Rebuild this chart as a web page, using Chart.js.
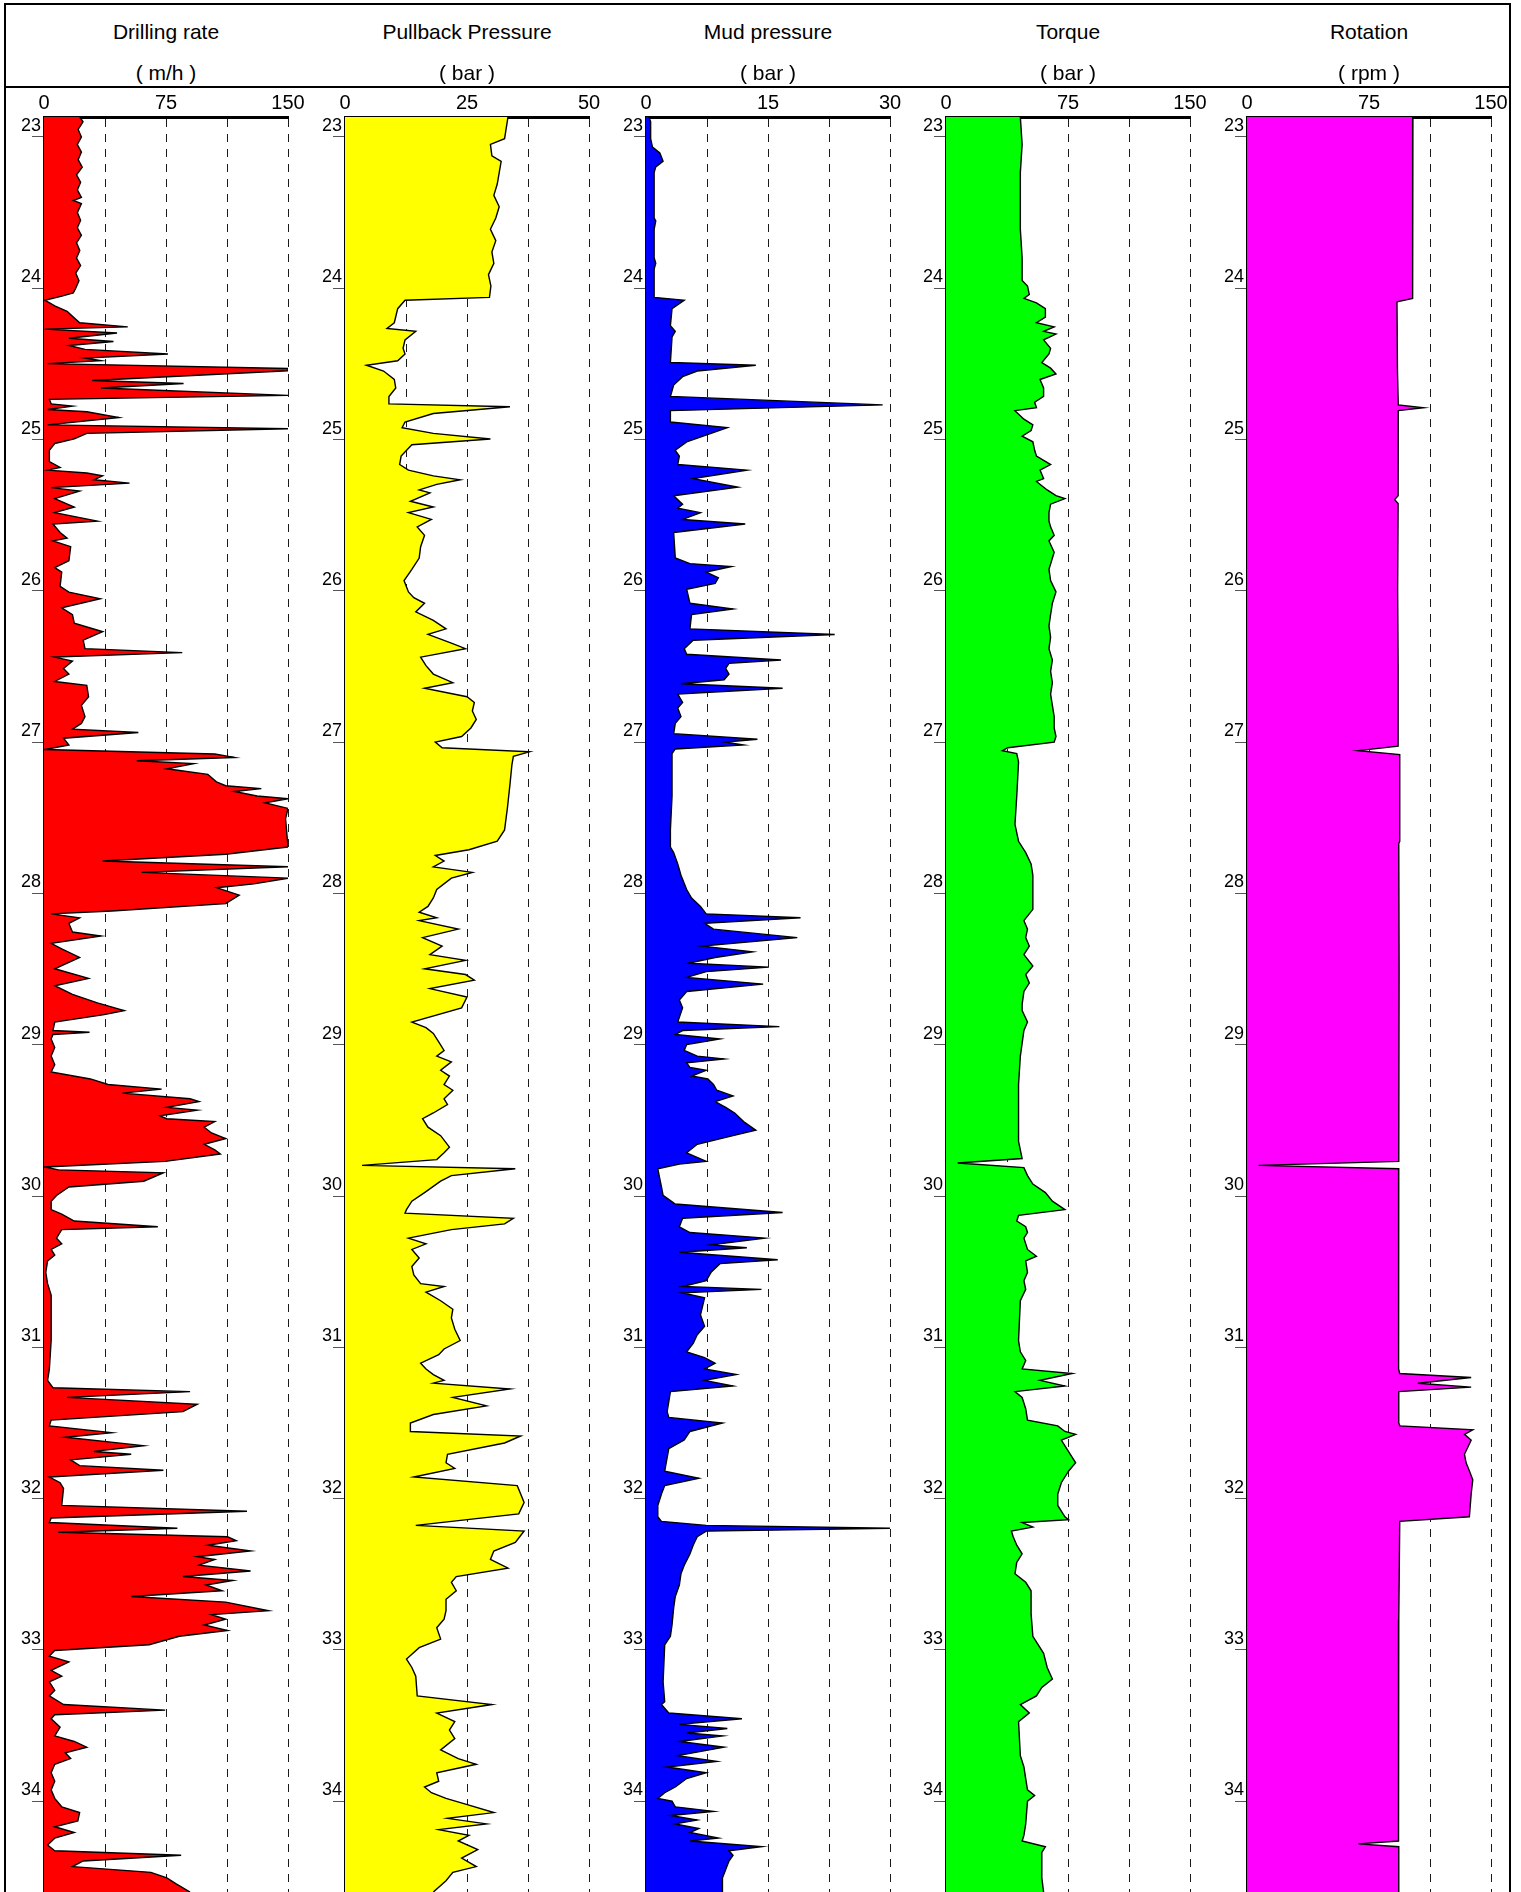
<!DOCTYPE html>
<html>
<head>
<meta charset="utf-8">
<script src="https://cdn.jsdelivr.net/npm/chart.js@4.4.1/dist/chart.umd.min.js"></script>
<style>
  html, body { margin:0; padding:0; background:#fff; width:1521px; height:1892px; overflow:hidden; }
  body { position:relative; font-family:"Liberation Sans", Arial, sans-serif; }
  #frame { position:absolute; left:4px; top:3px; width:1507px; height:2100px; border:2px solid #000; box-sizing:border-box; }
  #hline { position:absolute; left:4px; top:86px; width:1507px; height:2px; background:#000; }
  .ttl, .unit { position:absolute; width:244px; text-align:center; font-size:21px; line-height:24px; color:#000; white-space:nowrap; }
  .ttl { top:20px; }
  .unit { top:61px; }
  canvas { position:absolute; }
</style>
</head>
<body>
<div id="frame"></div>
<div id="hline"></div>
<script>
// ---------- tracks ----------
const trackTitles = ['Drilling rate', 'Pullback Pressure', 'Mud pressure', 'Torque', 'Rotation'];
const trackUnits  = ['( m/h )', '( bar )', '( bar )', '( bar )', '( rpm )'];
const trackMax    = [150, 50, 30, 150, 150];
const axisLabels  = [[0, 75, 150], [0, 25, 50], [0, 15, 30], [0, 75, 150], [0, 75, 150]];
const depthTicks  = [23, 24, 25, 26, 27, 28, 29, 30, 31, 32, 33, 34];
const depthMin = 22.868, depthMax = 34.6;

// ---------- Drilling rate (m/h) ----------
const drillDepth = [
 22.868,22.90,22.95,23.00,23.05,23.10,23.15,23.20,23.25,23.30,
 23.35,23.40,23.42,23.44,23.50,23.55,23.60,23.65,23.70,23.75,
 23.80,23.85,23.90,23.95,24.00,24.03,24.052,24.079,24.116,24.153,
 24.228,24.255,24.270,24.296,24.330,24.352,24.378,24.404,24.434,24.461,
 24.479,24.498,24.530,24.545,24.610,24.629,24.659,24.708,24.734,24.764,
 24.779,24.801,24.816,24.854,24.903,24.929,24.959,24.996,25.026,25.071,
 25.146,25.184,25.202,25.221,25.240,25.266,25.288,25.318,25.341,25.390,
 25.446,25.483,25.539,25.558,25.614,25.652,25.670,25.708,25.801,25.846,
 25.876,25.970,26.008,26.052,26.112,26.157,26.213,26.270,26.326,26.382,
 26.408,26.438,26.464,26.513,26.550,26.599,26.625,26.700,26.757,26.831,
 26.876,26.914,26.936,26.974,27.019,27.049,27.078,27.101,27.123,27.142,
 27.176,27.213,27.262,27.288,27.307,27.326,27.356,27.374,27.401,27.438,
 27.506,27.693,27.741,27.786,27.824,27.861,27.899,27.937,27.962,28.011,
 28.067,28.116,28.135,28.161,28.198,28.255,28.281,28.330,28.367,28.423,
 28.498,28.561,28.610,28.667,28.723,28.774,28.801,28.850,28.906,28.917,
 28.932,28.962,29.019,29.075,29.132,29.180,29.226,29.263,29.293,29.320,
 29.357,29.376,29.414,29.432,29.470,29.489,29.508,29.545,29.583,29.620,
 29.658,29.695,29.722,29.771,29.808,29.827,29.846,29.902,29.940,29.996,
 30.034,30.090,30.120,30.165,30.203,30.222,30.278,30.316,30.353,30.391,
 30.429,30.504,30.579,30.654,30.955,31.143,31.218,31.267,31.293,31.331,
 31.376,31.425,31.481,31.519,31.564,31.594,31.650,31.688,31.707,31.744,
 31.782,31.812,31.857,31.895,31.932,32.045,32.083,32.128,32.158,32.196,
 32.222,32.252,32.278,32.308,32.346,32.384,32.402,32.440,32.478,32.515,
 32.541,32.571,32.609,32.647,32.684,32.741,32.767,32.797,32.835,32.872,
 32.910,32.966,33.004,33.041,33.079,33.135,33.173,33.211,33.267,33.304,
 33.361,33.398,33.428,33.455,33.511,33.568,33.605,33.643,33.680,33.718,
 33.756,33.812,33.868,33.925,33.981,34.037,34.075,34.131,34.169,34.207,
 34.244,34.289,34.327,34.357,34.395,34.432,34.470,34.507,34.545,34.600
];
const drillRate = [
 22,24,21,23,20.5,23,21,23.5,20,22.5,
 20.5,23,18,23,20.5,22.5,20.5,23,20,22,
 20,22.5,19.5,21.5,19.5,18,11,0.5,6.6,14.2,
 21.9,51.5,0.5,44.9,15.3,42.7,15.3,25.2,76.2,25.2,
 35,2.2,150,150,29.6,85.8,35,150,3.3,4.4,
 17.5,2.2,26.3,46,2.2,150,26.3,18.6,6.6,3.3,
 3.3,9.9,2.2,26.3,36,30.7,52.6,4.4,21.9,6.6,
 18.6,6.6,32.8,5.5,9.9,14.2,5.5,16.4,15.3,6.6,
 10.9,9.9,15.3,34.6,10.9,17.5,18.6,36.1,24.1,25.2,
 85,6.6,17.5,12,15.3,6.6,26.3,27.4,23,25.2,
 23,17.5,58,12,15.3,0.5,105,117,57,92,
 75.6,100.7,106,111.7,133.6,117,131,150,136,150,
 148.5,150,111.7,36,150,60,150,129,106,120,
 111.7,41.6,4.4,21.9,15.3,17.5,35,4.4,10.9,21.9,
 6.6,27.4,6.6,17.5,32.8,49.3,37,6.6,5.5,28,
 5.5,4.4,6.6,4.4,6.6,4.4,28.5,39.4,72.3,48.2,
 89.8,95.3,75.5,94.2,71.2,75.5,105,98.5,103,111.7,
 98.5,105,108.4,74.5,0.5,8.8,73.4,61.3,15.3,7.7,
 4.4,4.4,10.9,18.6,70,10.9,7.7,10.9,4.4,6.6,
 2.2,1.1,2.2,4.4,4.4,3.3,2.2,5.5,89.8,14.2,
 94.2,85.4,4.4,3.3,41.6,13.1,61.3,30.7,53.6,16.4,
 21.9,73.4,3.3,9.9,12,10.9,124.8,4.4,3.3,82,
 8.8,112.8,118.2,100.7,127,94.2,105,95.3,127,85.4,
 116,99.6,109.5,53.6,111.7,138,103,111.7,98.5,112.8,
 83.2,64.6,6.6,3.3,15.3,4.4,10.9,3.3,6.6,3.3,
 12,74.5,6.6,4.4,9.9,6.6,18.6,26.3,13.1,16.4,
 6.6,4.4,6.6,4.4,6.6,10.9,21.9,20.8,6.6,18.6,
 6.6,2.2,6.6,84.3,24.1,17.5,65.7,75.5,81,89.8
];

// ---------- Pullback Pressure (bar) ----------
const pullDepth = [
 22.868,23.011,23.049,23.124,23.161,23.236,23.311,23.386,23.461,23.536,
 23.610,23.685,23.760,23.835,23.910,23.985,24.060,24.079,24.135,24.228,
 24.266,24.285,24.341,24.397,24.434,24.479,24.509,24.547,24.603,24.659,
 24.715,24.764,24.783,24.828,24.884,24.921,24.959,24.996,25.034,25.109,
 25.165,25.202,25.240,25.266,25.296,25.333,25.352,25.408,25.446,25.483,
 25.528,25.577,25.633,25.708,25.783,25.858,25.932,26.007,26.045,26.082,
 26.139,26.195,26.251,26.288,26.345,26.382,26.438,26.494,26.550,26.607,
 26.644,26.700,26.738,26.794,26.850,26.906,26.963,27.000,27.037,27.064,
 27.094,27.150,27.281,27.430,27.580,27.655,27.711,27.749,27.786,27.824,
 27.861,27.899,27.974,28.030,28.086,28.124,28.161,28.180,28.236,28.292,
 28.348,28.404,28.442,28.498,28.536,28.573,28.629,28.685,28.756,28.850,
 28.887,28.925,28.981,29.038,29.075,29.113,29.169,29.207,29.263,29.301,
 29.357,29.395,29.451,29.489,29.545,29.601,29.677,29.714,29.759,29.797,
 29.820,29.865,29.902,29.977,30.034,30.090,30.113,30.147,30.184,30.222,
 30.278,30.316,30.353,30.410,30.466,30.522,30.579,30.598,30.635,30.692,
 30.748,30.805,30.880,30.955,31.011,31.049,31.105,31.143,31.180,31.218,
 31.237,31.275,31.331,31.387,31.444,31.500,31.556,31.586,31.632,31.707,
 31.763,31.801,31.857,31.914,31.970,32.026,32.101,32.177,32.214,32.289,
 32.346,32.402,32.459,32.515,32.553,32.609,32.665,32.741,32.797,32.853,
 32.928,32.985,33.060,33.116,33.173,33.304,33.361,33.417,33.474,33.530,
 33.586,33.661,33.718,33.756,33.812,33.868,33.906,33.944,33.981,34.019,
 34.075,34.113,34.150,34.188,34.226,34.263,34.320,34.376,34.432,34.470,
 34.526,34.600
];
const pullPressure = [
 33.4,32.7,29.8,30.1,32,31.6,31.2,30.5,31.6,30.9,
 29.8,30.9,30.1,30.5,29.4,29.9,29.6,12.3,10.8,10.1,
 8.6,14.5,12.3,11.9,12.3,10.8,4.4,7.9,10.1,10.4,
 9,9,33.8,18.1,12.3,11.7,18.1,29.8,13.7,11.5,
 11.2,13,18.1,23.6,18.8,15.2,17.4,13.4,18.1,13,
 17.7,14.8,16.3,15.5,15.2,13.7,12.1,13,14.1,16.3,
 14.5,18.1,20.7,17,21.8,24.7,15.5,16.6,18.1,22.1,
 16.3,25,26.5,26.1,26.9,25.8,23.9,18.5,19.9,37.8,
 34.5,34.2,33.8,33.3,32.7,31.2,25.4,18.5,20.3,18.1,
 26.1,21.8,18.8,18.1,17,15.2,18.8,15.2,23.2,15.9,
 19.9,17.4,24.7,16.3,24.7,26.5,17.4,25,23.9,13.7,
 16.6,18.1,19.2,20.3,18.8,21.8,19.6,21.4,20.3,22.1,
 20.3,21,18.1,15.9,17,19.6,21.4,20.3,18.8,3.5,
 34.9,21.8,19.6,16.3,13.7,12.6,12.3,34.5,32.7,21.8,
 13,16.6,13.7,15.2,13.7,14.1,15.5,20.3,16.6,19.6,
 22.1,21.8,22.5,23.6,20.3,19.2,15.5,16.6,18.1,20.3,
 18.1,33.8,22.1,29,18.1,13.4,13.4,36,32.7,21,
 20.7,22.5,14.1,35.3,36,36.7,35.6,14.5,36.7,34.9,
 30.5,29.8,33.4,22.8,21.8,22.8,20.7,20.7,20.3,18.8,
 19.6,15.2,12.6,13.7,14.5,14.8,30.1,18.8,22.5,21.4,
 22.5,19.6,23.2,26.9,18.8,19.2,16.3,17.7,20.7,24.7,
 30.5,21,29,19.2,25.4,23.2,27.2,23.9,26.9,22.1,
 20.7,18.1
];

// ---------- Mud pressure (bar) ----------
const mudDepth = [
 22.868,22.899,23.011,23.067,23.105,23.161,23.198,23.236,23.536,23.554,
 23.610,23.798,23.835,23.873,24.060,24.079,24.135,24.247,24.285,24.322,
 24.491,24.509,24.547,24.584,24.640,24.715,24.771,24.809,24.884,24.921,
 24.959,25.015,25.071,25.109,25.165,25.202,25.258,25.315,25.371,25.427,
 25.453,25.483,25.528,25.558,25.614,25.783,25.820,25.839,25.876,25.914,
 25.951,25.989,26.082,26.120,26.157,26.251,26.288,26.326,26.382,26.419,
 26.457,26.479,26.513,26.550,26.588,26.614,26.644,26.682,26.738,26.775,
 26.831,26.876,26.944,26.981,27.000,27.019,27.045,27.075,27.356,27.580,
 27.693,27.730,27.805,27.880,27.974,28.030,28.086,28.135,28.161,28.198,
 28.236,28.292,28.348,28.386,28.423,28.461,28.487,28.517,28.555,28.599,
 28.648,28.704,28.756,28.850,28.880,28.906,28.932,28.962,28.999,29.038,
 29.075,29.094,29.120,29.150,29.169,29.207,29.226,29.263,29.301,29.338,
 29.376,29.414,29.451,29.508,29.564,29.601,29.658,29.714,29.771,29.789,
 29.820,29.940,29.996,30.053,30.109,30.147,30.203,30.241,30.278,30.323,
 30.342,30.372,30.421,30.447,30.504,30.560,30.598,30.617,30.640,30.673,
 30.786,30.861,30.917,30.974,31.030,31.068,31.105,31.143,31.180,31.218,
 31.256,31.293,31.425,31.463,31.500,31.556,31.613,31.669,31.819,31.865,
 31.914,31.970,32.045,32.120,32.150,32.177,32.196,32.215,32.252,32.308,
 32.365,32.440,32.496,32.571,32.647,32.722,32.835,32.910,32.966,33.211,
 33.342,33.361,33.417,33.455,33.492,33.519,33.549,33.568,33.605,33.643,
 33.699,33.737,33.774,33.812,33.850,33.906,33.944,33.981,34.000,34.037,
 34.067,34.094,34.124,34.150,34.180,34.207,34.244,34.263,34.301,34.327,
 34.357,34.395,34.451,34.507,34.600
];
const mudPressure = [
 0.35,0.57,0.57,0.8,1.7,2.1,1.2,1.0,1.0,1.2,
 1.0,1.0,1.2,1.0,1.0,4.7,3.2,3.0,3.6,3.2,
 3.0,13.5,6.3,4.5,3.4,3.0,29.1,3.0,3.0,10,
 8,5,3.6,4.1,3.9,12.4,5.8,11.3,3.4,4.5,
 3.9,6.7,4.5,12.2,3.4,3.6,5.4,10.5,7.4,8.9,
 8.5,5,5.4,10.7,5.6,5.4,23.2,5.8,4.7,5,
 16.6,10.2,9.8,10.2,9.6,4.3,16.8,3.9,4.5,3.9,
 4.3,3.6,3.4,13.7,9.8,12,3.6,3.2,3.2,3.0,
 3.0,3.4,3.9,4.3,5,5.6,6.7,7.4,19,7.2,
 8.3,18.6,6.9,13.1,8.5,5.2,15.1,7.4,5,14.4,
 5,4.1,4.5,3.9,16.4,4.5,3.6,9.1,5,4.7,
 6.3,9.6,5,5.4,7.4,5.6,7.6,8.3,8.7,10.7,
 8.5,9.8,10.9,12,13.5,10.7,6.3,5,7.4,4.1,
 1.45,1.9,2.1,3.6,16.8,4.5,4.1,5.4,14.6,8,
 12.4,4.1,16.2,9.1,8,7.4,4.5,14.2,4.5,7.2,
 6.7,7.2,6.3,5.8,5,7.2,8.5,7.2,11.1,7.2,
 10.7,3.0,2.6,2.8,9.4,5.4,4.7,2.8,2.3,6.5,
 2.3,1.9,1.45,1.45,1.9,7.4,30,7.4,6.3,5.8,
 5.4,4.7,4.3,4.1,3.6,3.4,3.2,3.0,2.3,2.1,
 2.3,1.9,2.8,11.8,4.1,10,5,9.4,4.1,9.6,
 3.9,8.7,2.6,7.4,5,3.6,2.3,1.45,3.2,3.6,
 8.3,3.0,6.3,3.6,6.5,5.4,8.9,5.4,14.2,10.2,
 10.7,10.2,9.8,9.4,9.4
];

// ---------- Torque (bar) ----------
const torqueDepth = [
 22.868,23.049,23.236,23.610,23.798,23.948,23.985,24.041,24.067,24.097,
 24.135,24.191,24.228,24.255,24.285,24.303,24.341,24.397,24.434,24.491,
 24.528,24.566,24.603,24.659,24.715,24.753,24.790,24.809,24.865,24.903,
 24.940,24.978,25.015,25.071,25.109,25.165,25.202,25.258,25.277,25.333,
 25.371,25.390,25.427,25.483,25.539,25.577,25.633,25.670,25.745,25.858,
 25.932,26.007,26.082,26.157,26.232,26.307,26.382,26.457,26.532,26.607,
 26.682,26.757,26.831,26.906,26.963,27.000,27.037,27.056,27.075,27.131,
 27.356,27.543,27.655,27.730,27.805,27.880,28.105,28.180,28.236,28.292,
 28.348,28.404,28.480,28.536,28.592,28.648,28.734,28.774,28.850,28.906,
 29.075,29.263,29.639,29.752,29.782,29.812,29.865,29.921,29.977,30.034,
 30.090,30.128,30.165,30.203,30.241,30.278,30.353,30.398,30.429,30.504,
 30.560,30.617,30.692,30.955,31.030,31.087,31.143,31.173,31.218,31.256,
 31.293,31.331,31.406,31.481,31.519,31.556,31.575,31.613,31.669,31.726,
 31.763,31.819,31.895,31.970,32.045,32.120,32.139,32.158,32.188,32.214,
 32.252,32.308,32.365,32.421,32.496,32.553,32.609,32.759,32.910,33.022,
 33.116,33.192,33.248,33.304,33.361,33.417,33.474,33.699,33.774,33.850,
 33.925,33.962,34.000,34.150,34.226,34.263,34.301,34.338,34.507,34.600
];
const torqueValue = [
 45.7,46.8,45.7,45.7,46.8,46.8,50.1,51.2,47.9,55.6,
 61.1,61.1,55.6,66.5,60,67.6,60,64.3,63.3,58.9,
 64.3,67.6,57.8,60,60,54.5,55.6,42.4,47.9,53.4,
 52.3,46.8,53.4,54.5,55.6,64.3,57.8,60,55.6,62.2,
 67.6,73.1,64.3,63.3,63.3,64.3,66.5,63.3,66.5,63.3,
 64.3,67.6,65.4,64.3,63.3,64.3,63.3,65.4,64.3,65.4,
 64.3,65.4,66.5,66.5,67.6,66.5,38,34.7,43.5,44.6,
 43.5,42.4,44.6,49,52.3,53.4,53.4,47.9,50.1,49,
 51.2,47.9,53.4,49,51.2,47.9,46.8,46.8,50.1,47.9,
 45.7,44.6,44.6,46.8,7.2,47.9,50.1,53.4,61.1,65.4,
 73.1,44.6,43.5,49,50.1,47.9,50.1,55.6,49,50.1,
 47.9,49,45.7,44.6,45.7,49,46.8,77.5,57.8,73.1,
 42.4,46.8,49,50.1,68.7,73.1,79.7,70.9,74.2,77.5,
 79.7,75.3,70.9,68.7,68.7,73.1,75.3,46.8,53.4,40.2,
 41.3,43.5,46.8,43.5,42.4,49,52.3,52.3,53.4,60,
 62.2,65.4,58.9,55.6,45.7,51.2,44.6,45.7,47.9,49,
 50.1,54.5,50.1,49,47.9,46.8,61.1,58.9,58.9,60
];

// ---------- Rotation (rpm) ----------
const rotDepth = [
 22.868,23.2,23.6,24.0,24.067,24.090,24.547,24.771,24.790,24.809,
 25.371,25.397,25.423,26.0,26.5,27.026,27.056,27.082,27.655,27.670,
 28.5,29.771,29.797,29.820,30.3,30.8,31.143,31.173,31.199,31.237,
 31.263,31.293,31.500,31.519,31.545,31.575,31.613,31.707,31.763,31.819,
 31.876,31.970,32.120,32.150,32.8,33.5,34.263,34.282,34.301,34.600
];
const rotValue = [
 102,101.5,102,101.8,102,92.2,92.5,93,108.6,93,
 92.9,90.8,92.9,92.6,92.9,92.9,68.4,93.9,93.9,93.3,
 93.5,93.3,7.1,93.3,93,93.3,93.3,93.9,137.8,105,
 137.8,93.3,93.3,94,138.8,133.7,137.8,133.7,134.7,136.8,
 138.8,137.8,136.7,93.9,93.3,93,93.3,68.4,93.3,93.3
];

const seriesDepth  = [drillDepth, pullDepth, mudDepth, torqueDepth, rotDepth];
const seriesValue  = [drillRate, pullPressure, mudPressure, torqueValue, rotValue];

// ---------- styling / layout ----------
const fillColors = ['#ff0000', '#ffff00', '#0000ff', '#00ff00', '#ff00ff'];
const trackLeft  = [44, 345, 646, 946, 1247];
const TRACK_W = 244, AXIS_W = 44, PAD_R = 30, TOP = 87, XAXIS_H = 30;
const CANVAS_H = 1892 - TOP;

Chart.defaults.font.family = '"Liberation Sans", Arial, sans-serif';

trackTitles.forEach((title, i) => {
  const t = document.createElement('div');
  t.className = 'ttl'; t.style.left = trackLeft[i] + 'px'; t.textContent = title;
  document.body.appendChild(t);
  const u = document.createElement('div');
  u.className = 'unit'; u.style.left = trackLeft[i] + 'px'; u.textContent = trackUnits[i];
  document.body.appendChild(u);

  const c = document.createElement('canvas');
  const W = AXIS_W + TRACK_W + PAD_R;
  c.width = W; c.height = CANVAS_H;
  c.style.left = (trackLeft[i] - AXIS_W) + 'px';
  c.style.top = TOP + 'px';
  c.style.width = W + 'px';
  c.style.height = CANVAS_H + 'px';
  document.body.appendChild(c);

  const M = trackMax[i];
  const labels = axisLabels[i];
  const pts = seriesDepth[i].map((d, k) => ({ x: seriesValue[i][k], y: d }));

  new Chart(c, {
    type: 'line',
    data: {
      datasets: [{
        data: pts,
        fill: 'origin',
        backgroundColor: fillColors[i],
        borderColor: '#000',
        borderWidth: 1.4,
        pointRadius: 0,
        tension: 0
      }]
    },
    options: {
      indexAxis: 'y',
      responsive: false,
      animation: false,
      devicePixelRatio: 1,
      layout: { padding: { left: 0, right: PAD_R, top: 0, bottom: 0 } },
      plugins: { legend: { display: false }, tooltip: { enabled: false } },
      scales: {
        x: {
          type: 'linear', position: 'top', min: 0, max: M,
          afterBuildTicks: s => { s.ticks = [0, 1, 2, 3, 4].map(k => ({ value: M * k / 4 })); },
          afterFit: s => { s.height = XAXIS_H; s.paddingLeft = 0; s.paddingRight = 0; },
          ticks: {
            autoSkip: false, maxRotation: 0, minRotation: 0, padding: 2, color: '#000',
            font: { size: 20 },
            callback: v => (labels.indexOf(v) >= 0 ? String(v) : '')
          },
          grid: {
            drawTicks: false, lineWidth: 1,
            color: ctx => (ctx.index === 0 ? 'rgba(0,0,0,0)' : '#1a1a1a')
          },
          border: { display: true, color: '#000', width: 3, dash: [8, 7] }
        },
        y: {
          type: 'linear', position: 'left', reverse: true, min: depthMin, max: depthMax,
          afterBuildTicks: s => { s.ticks = depthTicks.map(v => ({ value: v })); },
          afterFit: s => { s.width = AXIS_W; s.paddingTop = 0; s.paddingBottom = 0; },
          ticks: {
            autoSkip: false, padding: -9, labelOffset: -11, color: '#000',
            font: { size: 18 },
            callback: v => String(v)
          },
          grid: { drawOnChartArea: false, drawTicks: true, tickLength: 12, color: '#555', lineWidth: 1 },
          border: { display: true, color: '#000', width: 3 }
        }
      }
    }
  });
});
</script>
</body>
</html>
